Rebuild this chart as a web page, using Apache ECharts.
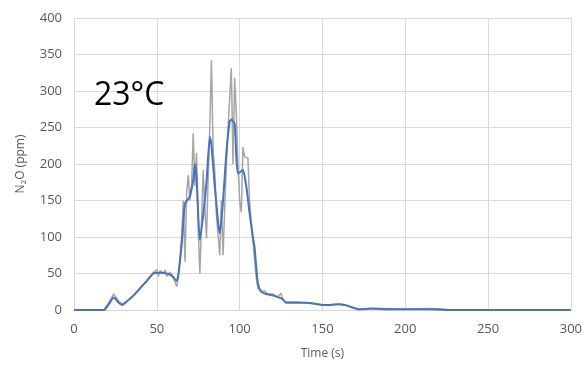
<!DOCTYPE html>
<html>
<head>
<meta charset="utf-8">
<script src="https://cdn.jsdelivr.net/npm/echarts@6/dist/echarts.min.js"></script>
<style>
  html, body { margin: 0; padding: 0; background: #ffffff; }
  #main { width: 585px; height: 366px; }
</style>
</head>
<body>
<div id="main"></div>
<script>
// N2O readings, [time (s), ppm]
var rawPts = [
  [0, 0], [18, 0], [21, 10], [24, 22], [27, 12], [29, 8], [32, 12], [36, 20], [40, 30],
  [44, 40], [48, 52], [50, 55], [51, 46], [52, 54], [54, 50], [55, 55], [56, 46], [58, 52],
  [60, 45], [62, 32], [63, 45], [64, 70], [65, 100], [66, 150], [67, 66], [68, 160],
  [69, 185], [70, 150], [71, 170], [72, 242], [73, 170], [74, 215], [75, 110], [76, 50],
  [77, 120], [78, 192], [79, 140], [80, 98], [81, 180], [82, 250], [83, 342], [84, 220],
  [85, 190], [86, 130], [88, 75], [89, 150], [90, 75], [91, 140], [92, 200], [93, 250],
  [95, 331], [96, 200], [97, 318], [98, 270], [99, 200], [100, 150], [101, 134], [102, 223],
  [103, 210], [105, 208], [106, 150], [107, 120], [108, 95], [109, 70], [110, 45], [111, 30],
  [113, 26], [115, 26], [117, 22], [120, 22], [123, 18], [125, 23], [126, 14], [128, 11],
  [135, 11], [145, 9], [150, 7], [160, 8], [165, 6], [172, 1], [185, 2], [200, 1],
  [215, 2], [230, 0], [300, 0]
];
var smoothPts = [
  [0, 0], [18, 0], [21, 8], [24, 17], [27, 10], [29, 7], [32, 12], [36, 20], [40, 30],
  [44, 40], [48, 50], [52, 51], [56, 50], [59, 47], [61, 42], [62, 40], [63, 48], [65, 90],
  [66, 120], [67, 146], [69, 152], [70, 156], [72, 178], [73, 200], [74, 180], [76, 96],
  [78, 130], [80, 175], [82, 237], [83, 225], [85, 170], [87, 120], [88, 105], [90, 150],
  [92, 215], [94, 258], [95, 261], [97, 255], [98, 210], [99, 187], [101, 190], [102, 192],
  [104, 170], [106, 133], [108, 100], [109, 86], [110, 60], [111, 37], [113, 25], [116, 22],
  [120, 20], [124, 17], [126, 15], [128, 10], [140, 10], [150, 7], [155, 7], [160, 8],
  [165, 6], [172, 1], [180, 2], [190, 1], [200, 1], [215, 1], [230, 0], [300, 0]
];
var label = '23°C';

var chart = echarts.init(document.getElementById('main'));
chart.setOption({
  animation: false,
  backgroundColor: '#ffffff',
  textStyle: { fontFamily: 'Open Sans' },
  title: {
    text: label,
    left: 89,
    top: 75,
    textStyle: { fontSize: 32, fontWeight: 'normal', color: '#000000', fontFamily: 'Open Sans' }
  },
  grid: { left: 74, right: 14, top: 18, bottom: 56 },
  xAxis: {
    type: 'value',
    min: 0, max: 300, interval: 50,
    name: 'Time (s)',
    nameLocation: 'middle',
    nameGap: 38,
    nameTextStyle: { color: '#595959', fontSize: 12 },
    axisLine: { show: true, lineStyle: { color: '#d9d9d9' } },
    axisTick: { show: false },
    axisLabel: { color: '#595959', fontSize: 13, margin: 13 },
    splitLine: { show: true, lineStyle: { color: '#d9d9d9' } }
  },
  yAxis: {
    type: 'value',
    min: 0, max: 400, interval: 50,
    name: '{a|N}{b|2}{a|O (ppm)}',
    nameLocation: 'middle',
    nameGap: 46,
    nameTextStyle: {
      color: '#595959',
      rich: {
        a: { fontSize: 12, color: '#595959' },
        b: { fontSize: 8, color: '#595959', padding: [6, 0, 0, 0] }
      }
    },
    axisLine: { show: false },
    axisTick: { show: false },
    axisLabel: { color: '#595959', fontSize: 13, margin: 12 },
    splitLine: { show: true, lineStyle: { color: '#d9d9d9' } }
  },
  series: [
    {
      name: 'raw',
      type: 'line',
      data: rawPts,
      symbol: 'none',
      lineStyle: { color: '#a5a5a5', width: 1.5 },
      z: 2
    },
    {
      name: 'smoothed',
      type: 'line',
      data: smoothPts,
      symbol: 'none',
      smooth: 0.2,
      lineStyle: { color: '#4472c4', width: 2 },
      z: 3
    }
  ]
});
</script>
</body>
</html>
